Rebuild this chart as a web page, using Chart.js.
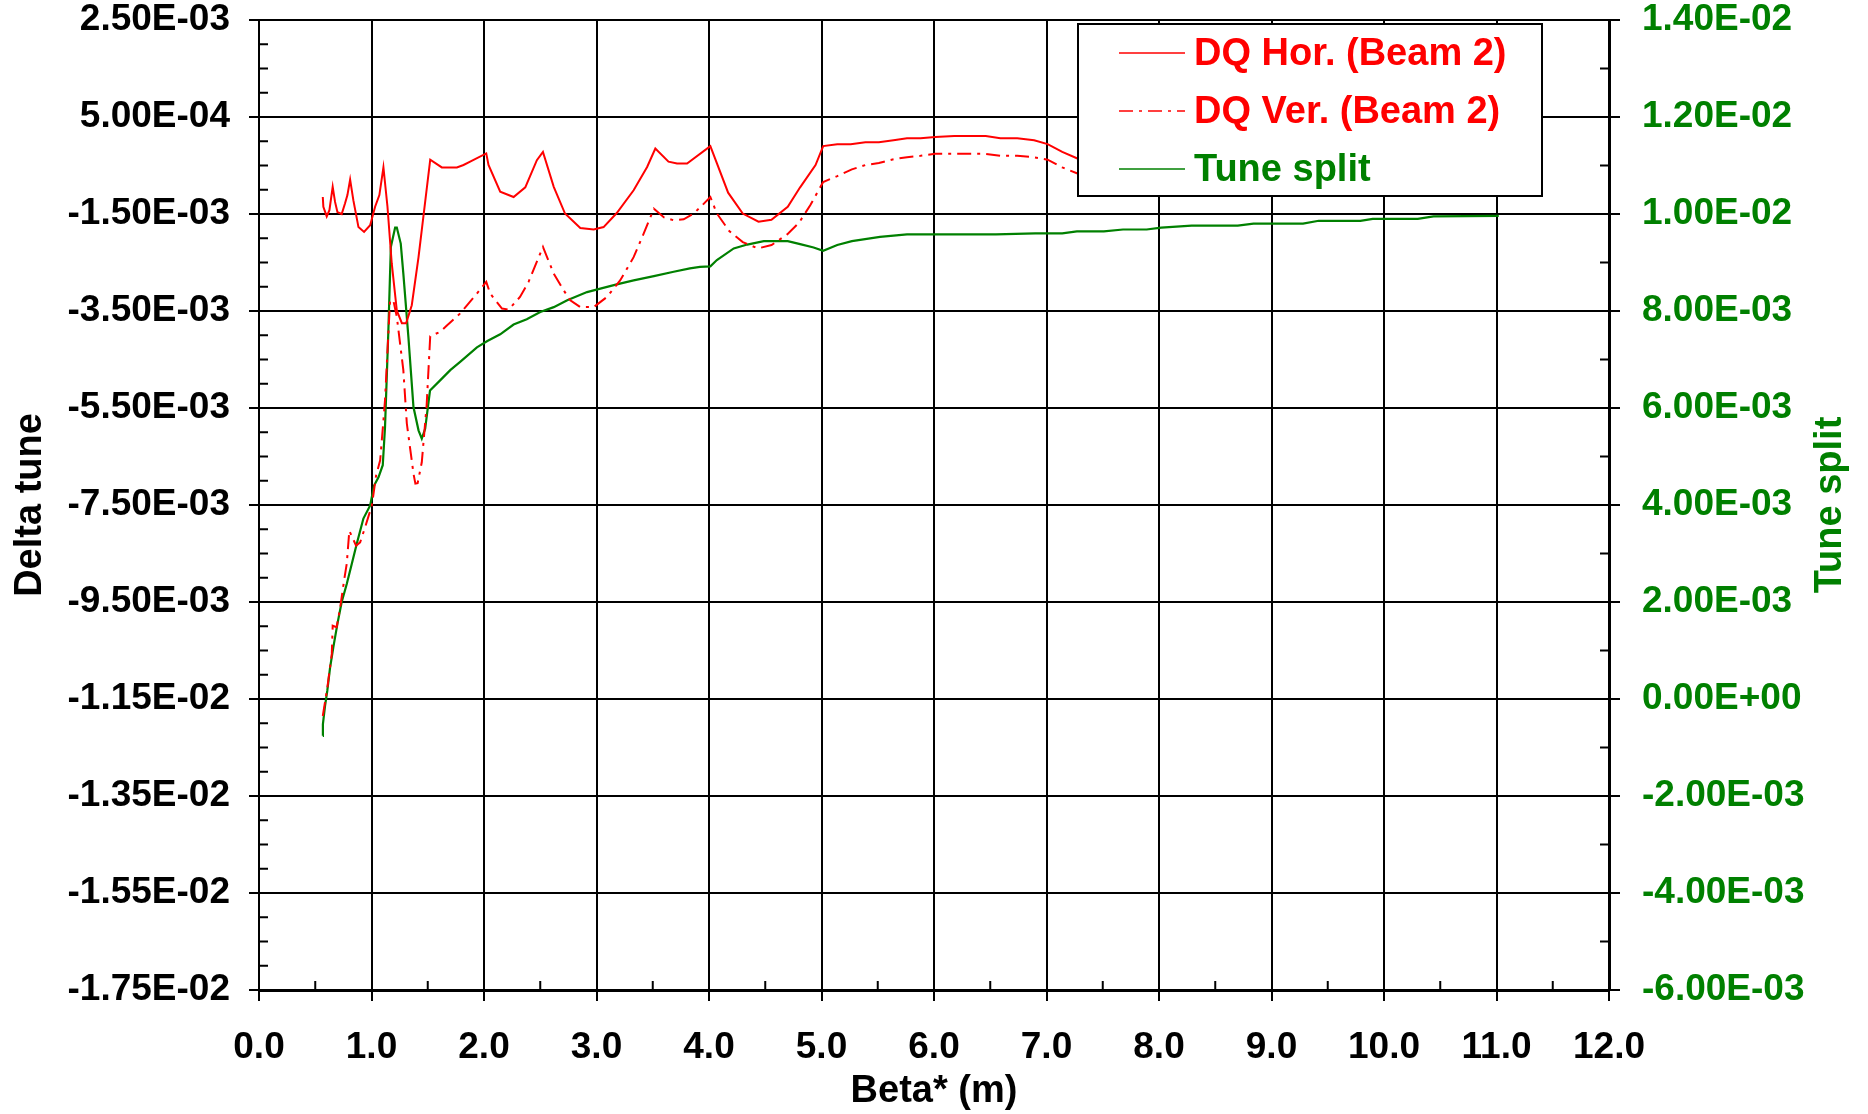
<!DOCTYPE html>
<html>
<head>
<meta charset="utf-8">
<title>Delta tune vs Beta*</title>
<script src="https://cdn.jsdelivr.net/npm/chart.js@4.4.1/dist/chart.umd.min.js"></script>
<style>
  body { margin: 0; background: #fff; }
  #wrap { width: 1868px; height: 1114px; }
</style>
</head>
<body>
<div id="wrap"><canvas id="chart" width="1868" height="1114"></canvas></div>
<script>
// beta* (m) and horizontal tune change, beam 2
const horBeta = [0.567, 0.572, 0.602, 0.626, 0.655, 0.676, 0.697, 0.735, 0.765, 0.786, 0.810, 0.839,
  0.884, 0.934, 0.988, 1.032, 1.070, 1.106, 1.142, 1.180, 1.225, 1.270, 1.308, 1.358, 1.418, 1.522,
  1.625, 1.759, 1.818, 1.877, 2.020, 2.040, 2.144, 2.263, 2.367, 2.470, 2.524, 2.620, 2.720, 2.856,
  2.975, 3.063, 3.180, 3.330, 3.450, 3.523, 3.640, 3.716, 3.805, 4.012, 4.170, 4.300, 4.440, 4.555,
  4.700, 4.810, 4.947, 5.015, 5.140, 5.260, 5.390, 5.510, 5.640, 5.760, 5.880, 6.010, 6.180, 6.460,
  6.590, 6.740, 6.890, 7.010, 7.140, 7.270, 7.500];
const horDQ = [-1.15e-3, -1.35e-3, -1.55e-3, -1.42e-3, -0.94e-3, -1.25e-3, -1.46e-3, -1.50e-3, -1.28e-3,
  -1.11e-3, -0.79e-3, -1.22e-3, -1.77e-3, -1.87e-3, -1.73e-3, -1.35e-3, -1.11e-3, -0.54e-3, -1.35e-3,
  -2.52e-3, -3.49e-3, -3.75e-3, -3.75e-3, -3.38e-3, -2.39e-3, -0.38e-3, -0.54e-3, -0.54e-3, -0.49e-3,
  -0.42e-3, -0.25e-3, -0.49e-3, -1.04e-3, -1.15e-3, -0.95e-3, -0.39e-3, -0.22e-3, -0.94e-3, -1.49e-3,
  -1.79e-3, -1.82e-3, -1.77e-3, -1.48e-3, -1.01e-3, -0.53e-3, -0.15e-3, -0.42e-3, -0.46e-3, -0.46e-3,
  -0.10e-3, -1.06e-3, -1.49e-3, -1.66e-3, -1.62e-3, -1.35e-3, -0.95e-3, -0.49e-3, -0.10e-3, -0.06e-3,
  -0.06e-3, -0.02e-3, -0.02e-3, 0.02e-3, 0.06e-3, 0.06e-3, 0.09e-3, 0.11e-3, 0.11e-3, 0.06e-3,
  0.06e-3, 0.02e-3, -0.06e-3, -0.22e-3, -0.35e-3, -0.55e-3];

// vertical tune change, beam 2
const verBeta = [0.567, 0.608, 0.647, 0.655, 0.690, 0.720, 0.756, 0.780, 0.803, 0.863, 0.899, 0.943,
  1.003, 1.041, 1.077, 1.106, 1.120, 1.165, 1.195, 1.225, 1.283, 1.314, 1.373, 1.390, 1.410, 1.447,
  1.490, 1.522, 1.610, 1.670, 1.788, 1.937, 2.020, 2.055, 2.160, 2.220, 2.320, 2.396, 2.524, 2.620,
  2.707, 2.767, 2.856, 2.975, 3.093, 3.210, 3.330, 3.420, 3.510, 3.600, 3.686, 3.775, 3.864, 3.940,
  4.012, 4.070, 4.180, 4.300, 4.435, 4.556, 4.695, 4.800, 4.900, 5.015, 5.140, 5.270, 5.390, 5.510,
  5.640, 5.760, 5.880, 6.010, 6.460, 6.590, 6.740, 6.890, 7.010, 7.140, 7.270, 7.500];
const verDQ = [-11.85e-3, -11.26e-3, -10.57e-3, -9.99e-3, -10.02e-3, -9.64e-3, -9.06e-3, -8.71e-3,
  -8.03e-3, -8.34e-3, -8.27e-3, -7.96e-3, -7.51e-3, -6.89e-3, -6.58e-3, -5.76e-3, -5.34e-3, -3.28e-3,
  -3.29e-3, -3.62e-3, -4.72e-3, -5.82e-3, -6.85e-3, -7.06e-3, -7.05e-3, -6.62e-3, -5.45e-3, -4.02e-3,
  -3.93e-3, -3.80e-3, -3.55e-3, -3.14e-3, -2.90e-3, -3.14e-3, -3.45e-3, -3.47e-3, -3.21e-3, -2.90e-3,
  -2.18e-3, -2.73e-3, -3.07e-3, -3.28e-3, -3.42e-3, -3.42e-3, -3.21e-3, -2.87e-3, -2.39e-3, -1.90e-3,
  -1.39e-3, -1.57e-3, -1.63e-3, -1.61e-3, -1.49e-3, -1.32e-3, -1.15e-3, -1.49e-3, -1.85e-3, -2.08e-3,
  -2.21e-3, -2.14e-3, -1.92e-3, -1.68e-3, -1.32e-3, -0.84e-3, -0.72e-3, -0.58e-3, -0.49e-3, -0.45e-3,
  -0.37e-3, -0.33e-3, -0.30e-3, -0.26e-3, -0.26e-3, -0.30e-3, -0.30e-3, -0.33e-3, -0.38e-3, -0.54e-3,
  -0.66e-3, -0.85e-3];

// tune split (right axis)
const splitBeta = [0.567, 0.568, 0.587, 0.607, 0.632, 0.661, 0.697, 0.735, 0.780, 0.825, 0.869, 0.928,
  0.988, 1.023, 1.062, 1.100, 1.120, 1.150, 1.172, 1.210, 1.225, 1.260, 1.283, 1.328, 1.373, 1.418,
  1.447, 1.477, 1.520, 1.610, 1.700, 1.788, 1.937, 2.030, 2.144, 2.263, 2.380, 2.500, 2.620, 2.740,
  2.916, 3.034, 3.180, 3.330, 3.510, 3.686, 3.830, 3.920, 4.012, 4.070, 4.220, 4.340, 4.487, 4.700,
  4.810, 4.930, 5.015, 5.140, 5.270, 5.520, 5.760, 6.550, 6.900, 7.140, 7.270, 7.510, 7.680, 7.890,
  8.020, 8.290, 8.700, 8.840, 9.280, 9.420, 9.790, 9.900, 10.300, 10.440, 11.020];
const tuneSplit = [-0.76e-3, -0.52e-3, -0.14e-3, 0.17e-3, 0.65e-3, 1.07e-3, 1.55e-3, 2.00e-3, 2.37e-3,
  2.79e-3, 3.20e-3, 3.72e-3, 3.99e-3, 4.40e-3, 4.57e-3, 4.82e-3, 5.60e-3, 7.60e-3, 9.32e-3, 9.72e-3,
  9.72e-3, 9.39e-3, 8.77e-3, 7.46e-3, 6.02e-3, 5.54e-3, 5.37e-3, 5.57e-3, 6.36e-3, 6.57e-3, 6.78e-3,
  6.95e-3, 7.25e-3, 7.38e-3, 7.52e-3, 7.72e-3, 7.83e-3, 7.98e-3, 8.08e-3, 8.22e-3, 8.39e-3, 8.46e-3,
  8.55e-3, 8.63e-3, 8.72e-3, 8.81e-3, 8.88e-3, 8.91e-3, 8.92e-3, 9.05e-3, 9.29e-3, 9.37e-3, 9.44e-3,
  9.44e-3, 9.38e-3, 9.31e-3, 9.24e-3, 9.36e-3, 9.44e-3, 9.53e-3, 9.58e-3, 9.58e-3, 9.60e-3, 9.60e-3,
  9.64e-3, 9.64e-3, 9.68e-3, 9.68e-3, 9.72e-3, 9.76e-3, 9.76e-3, 9.80e-3, 9.80e-3, 9.86e-3, 9.86e-3,
  9.90e-3, 9.90e-3, 9.95e-3, 9.96e-3];

// axis ticks
const betaTicks = [0, 1, 2, 3, 4, 5, 6, 7, 8, 9, 10, 11, 12];
const dqTicks = [-1.75e-2, -1.55e-2, -1.35e-2, -1.15e-2, -9.5e-3, -7.5e-3, -5.5e-3, -3.5e-3, -1.5e-3, 5e-4, 2.5e-3];
const splitTicks = [-6e-3, -4e-3, -2e-3, 0, 2e-3, 4e-3, 6e-3, 8e-3, 1e-2, 1.2e-2, 1.4e-2];

const RED = '#ff0000';
const GREEN = '#008000';
const FONT = '"Liberation Sans", Arial, sans-serif';

function sci(v) {
  const parts = v.toExponential(2).split('e');
  const n = parseInt(parts[1], 10);
  return parts[0].toUpperCase() + 'E' + (n < 0 ? '-' : '+') + String(Math.abs(n)).padStart(2, '0');
}

function pts(xs, ys) {
  return xs.map((x, i) => ({ x: x, y: ys[i] }));
}

// subdivide each major interval into n parts, keep the inner points
function minors(majors, n) {
  const out = [];
  for (let i = 0; i < majors.length - 1; i++) {
    const a = majors[i], b = majors[i + 1];
    for (let k = 1; k < n; k++) out.push(a + (b - a) * k / n);
  }
  return out;
}

// fixed-width side axes, no extra room for the end labels
function sideFit(s) {
  s.width = 259;
  s.paddingTop = 0;
  s.paddingBottom = 0;
}

const minorTicks = {
  id: 'minorTicks',
  afterDraw(chart) {
    const { ctx, chartArea: ca } = chart;
    const { x, y, y1 } = chart.scales;
    ctx.save();
    ctx.strokeStyle = '#000';
    ctx.lineWidth = 2;
    ctx.beginPath();
    minors(betaTicks, 2).forEach(v => {
      const px = x.getPixelForValue(v);
      ctx.moveTo(px, ca.bottom); ctx.lineTo(px, ca.bottom - 9);
    });
    minors(dqTicks, 4).forEach(v => {
      const py = y.getPixelForValue(v);
      ctx.moveTo(ca.left, py); ctx.lineTo(ca.left + 9, py);
    });
    minors(splitTicks, 2).forEach(v => {
      const py = y1.getPixelForValue(v);
      ctx.moveTo(ca.right, py); ctx.lineTo(ca.right - 9, py);
    });
    ctx.stroke();
    ctx.restore();
  }
};

const boxLegend = {
  id: 'boxLegend',
  afterDatasetsDraw(chart, args, opts) {
    const { ctx } = chart;
    ctx.save();
    ctx.fillStyle = '#fff';
    ctx.fillRect(opts.left, opts.top, opts.width, opts.height);
    ctx.strokeStyle = '#000';
    ctx.lineWidth = 2;
    ctx.strokeRect(opts.left, opts.top, opts.width, opts.height);
    ctx.font = 'bold 38px ' + FONT;
    ctx.textBaseline = 'middle';
    chart.data.datasets.forEach((ds, i) => {
      const ry = opts.top + opts.firstRow + i * opts.rowGap;
      ctx.strokeStyle = ds.borderColor;
      ctx.lineWidth = 1.5;
      ctx.setLineDash(ds.borderDash || []);
      ctx.beginPath();
      ctx.moveTo(opts.left + 41, ry);
      ctx.lineTo(opts.left + 107, ry);
      ctx.stroke();
      ctx.setLineDash([]);
      ctx.fillStyle = ds.borderColor;
      ctx.fillText(ds.label, opts.left + 116, ry + 2);
    });
    ctx.restore();
  }
};

const rightTitle = {
  id: 'rightTitle',
  afterDraw(chart) {
    const { ctx, chartArea: ca } = chart;
    ctx.save();
    ctx.translate(1831, (ca.top + ca.bottom) / 2);
    ctx.rotate(-Math.PI / 2);
    ctx.font = 'bold 38px ' + FONT;
    ctx.fillStyle = GREEN;
    ctx.textAlign = 'center';
    ctx.textBaseline = 'middle';
    ctx.fillText('Tune split', 0, 0);
    ctx.restore();
  }
};

new Chart(document.getElementById('chart'), {
  type: 'scatter',
  data: {
    datasets: [
      { label: 'DQ Hor. (Beam 2)', data: pts(horBeta, horDQ), yAxisID: 'y',
        borderColor: RED, borderWidth: 2 },
      { label: 'DQ Ver. (Beam 2)', data: pts(verBeta, verDQ), yAxisID: 'y',
        borderColor: RED, borderWidth: 2, borderDash: [14, 6, 3, 6] },
      { label: 'Tune split', data: pts(splitBeta, tuneSplit), yAxisID: 'y1',
        borderColor: GREEN, borderWidth: 2.2 }
    ]
  },
  options: {
    responsive: false,
    animation: false,
    showLine: true,
    elements: { point: { radius: 0 }, line: { tension: 0, fill: false } },
    layout: { padding: { top: 20, left: 0, right: 0, bottom: 0 } },
    plugins: {
      legend: { display: false },
      tooltip: { enabled: false },
      boxLegend: { left: 1078, top: 24, width: 464, height: 172, firstRow: 29, rowGap: 58 }
    },
    scales: {
      x: {
        type: 'linear', position: 'bottom', min: 0, max: 12,
        afterBuildTicks: s => { s.ticks = betaTicks.map(v => ({ value: v })); },
        afterFit: s => { s.height = 124; },
        ticks: { color: '#000', padding: 25, maxRotation: 0, autoSkip: false,
          font: { family: FONT, size: 37, weight: 'bold' },
          callback: v => v.toFixed(1) },
        grid: { color: '#000', lineWidth: 2, tickLength: 11, tickColor: '#000' },
        border: { color: '#000', width: 3 },
        title: { display: true, text: 'Beta* (m)', color: '#000', padding: 0,
          font: { family: FONT, size: 38, weight: 'bold' } }
      },
      y: {
        type: 'linear', position: 'left', min: -1.75e-2, max: 2.5e-3,
        afterBuildTicks: s => { s.ticks = dqTicks.map(v => ({ value: v })); },
        afterFit: sideFit,
        ticks: { color: '#000', padding: 19, autoSkip: false,
          font: { family: FONT, size: 37, weight: 'bold', lineHeight: 1 },
          callback: v => sci(v) },
        grid: { color: '#000', lineWidth: 2, tickLength: 10, tickColor: '#000' },
        border: { color: '#000', width: 2 },
        title: { display: true, text: 'Delta tune', color: '#000', padding: { top: 8, bottom: 0 },
          font: { family: FONT, size: 38, weight: 'bold' } }
      },
      y1: {
        type: 'linear', position: 'right', min: -6e-3, max: 1.4e-2,
        afterBuildTicks: s => { s.ticks = splitTicks.map(v => ({ value: v })); },
        afterFit: sideFit,
        ticks: { color: GREEN, padding: 22, autoSkip: false,
          font: { family: FONT, size: 37, weight: 'bold', lineHeight: 1 },
          callback: v => sci(v) },
        grid: { drawOnChartArea: false, lineWidth: 2, tickLength: 11, tickColor: '#000' },
        border: { color: '#000', width: 3 }
      }
    }
  },
  plugins: [minorTicks, boxLegend, rightTitle]
});
</script>
</body>
</html>
